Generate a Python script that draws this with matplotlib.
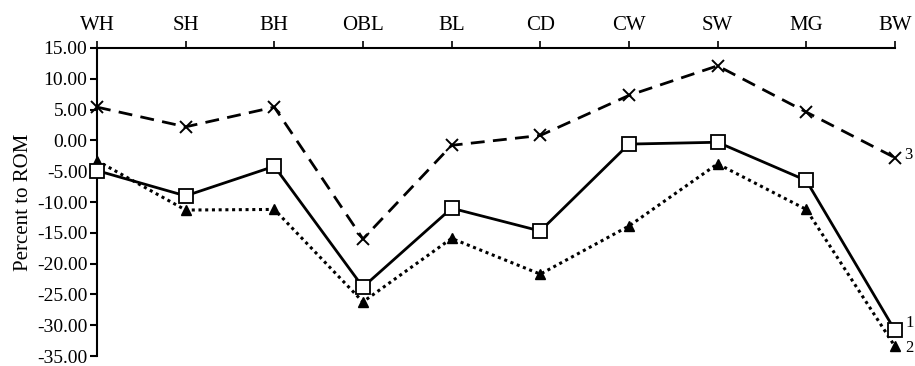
import matplotlib.pyplot as plt

plt.rcParams['font.family'] = ['Liberation Serif', 'DejaVu Serif']

sites = ['WH', 'SH', 'BH', 'OBL', 'BL', 'CD', 'CW', 'SW', 'MG', 'BW']
series1 = [-4.9, -9.0, -4.2, -23.8, -11.0, -14.7, -0.6, -0.3, -6.5, -30.8]
series2 = [-3.3, -11.3, -11.2, -26.2, -15.9, -21.7, -13.9, -3.8, -11.2, -33.4]
series3 = [5.4, 2.2, 5.4, -16.0, -0.8, 0.8, 7.3, 12.1, 4.6, -2.8]
yticks = [15, 10, 5, 0, -5, -10, -15, -20, -25, -30, -35]

fig = plt.figure(figsize=(9.15, 3.66), dpi=100)
ax = fig.add_axes([0.106, 0.027, 0.872, 0.842])
x = list(range(len(sites)))

ax.plot(x, series3, color='black', linestyle=(0, (5, 3)), linewidth=2,
        marker='x', markersize=9, markeredgewidth=1.4, clip_on=False, zorder=3)
ax.plot(x, series2, color='black', linestyle=(0, (1, 1.2)), linewidth=2.2,
        marker='^', markersize=7, markerfacecolor='black', clip_on=False, zorder=3)
ax.plot(x, series1, color='black', linestyle='-', linewidth=2,
        marker='s', markersize=10, markerfacecolor='white', markeredgewidth=1.3,
        clip_on=False, zorder=4)

# series numbers at the right end of each line
ax.text(x[-1] + 0.12, series1[-1] + 1.2, '1', fontsize=12, va='center', clip_on=False)
ax.text(x[-1] + 0.12, series2[-1] - 0.3, '2', fontsize=12, va='center', clip_on=False)
ax.text(x[-1] + 0.1, series3[-1] + 0.4, '3', fontsize=12, va='center', clip_on=False)

ax.set_xlim(0, len(sites) - 1)
ax.set_ylim(-35, 15)
ax.set_xticks(x)
ax.set_xticklabels(sites, fontsize=15)
ax.xaxis.tick_top()
ax.tick_params(axis='x', direction='out', length=5, width=1.2, pad=4)
ax.set_yticks(yticks)
ax.set_yticklabels([f'{v:.2f}' for v in yticks], fontsize=14)
ax.tick_params(axis='y', direction='out', length=5, width=1.5, pad=2)
ax.set_ylabel('Percent to ROM', fontsize=15, labelpad=3)

ax.spines['right'].set_visible(False)
ax.spines['bottom'].set_visible(False)
ax.spines['top'].set_linewidth(1.5)
ax.spines['left'].set_linewidth(1.5)

fig.savefig('out.png', dpi=100)
